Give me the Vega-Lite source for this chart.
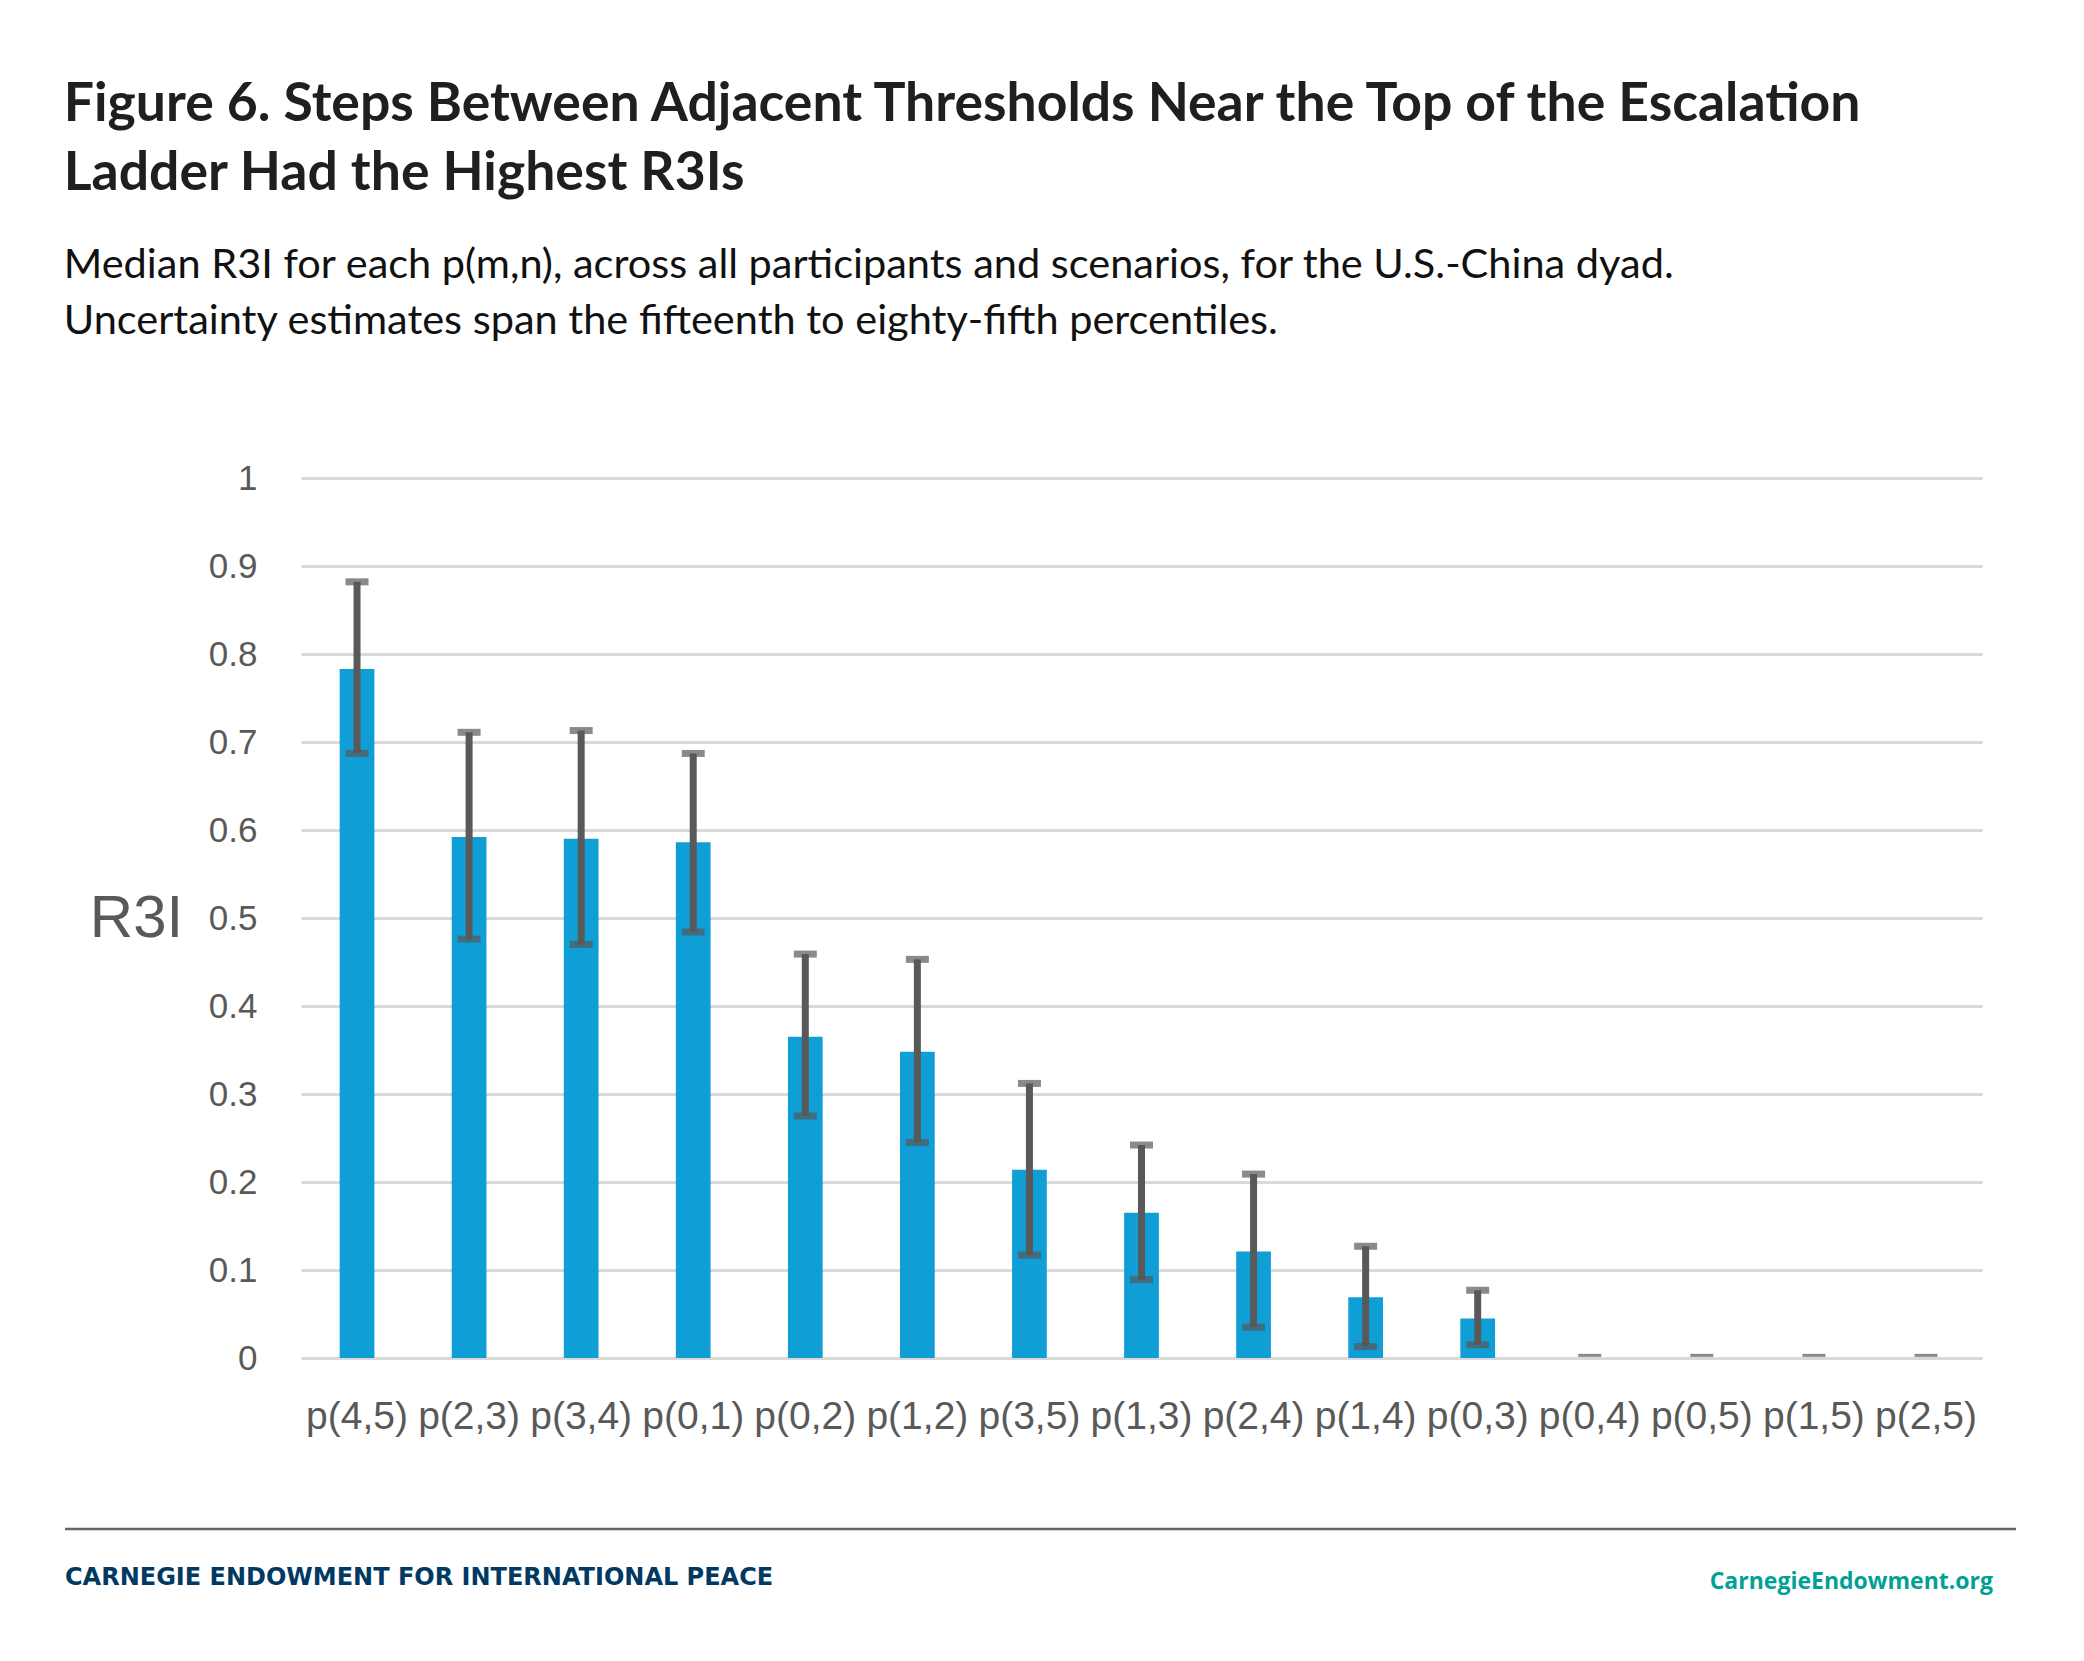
{
  "$schema": "https://vega.github.io/schema/vega-lite/v6.json",
  "background": "white",
  "padding": {"left": 63, "top": 78, "right": 10, "bottom": 10},
  "spacing": 91,
  "title": {
    "text": ["Figure 6. Steps Between Adjacent Thresholds Near the Top of the Escalation", "Ladder Had the Highest R3Is"],
    "subtitle": ["Median R3I for each p(m,n), across all participants and scenarios, for the U.S.-China dyad.", "Uncertainty estimates span the fifteenth to eighty-fifth percentiles."],
    "anchor": "start",
    "font": "Lato",
    "fontSize": 53.5,
    "fontWeight": "bold",
    "color": "#1f1f1f",
    "lineHeight": 69,
    "subtitleFont": "Lato",
    "subtitleFontSize": 41.5,
    "subtitleColor": "#111111",
    "subtitleLineHeight": 56,
    "subtitlePadding": 43,
    "offset": 118
  },
  "config": {"view": {"stroke": null}},
  "vconcat": [
    {
      "width": 1681,
      "height": 880,
      "data": {
        "values": [
          {"step": "p(4,5)", "median": 0.783, "lo": 0.687, "hi": 0.882},
          {"step": "p(2,3)", "median": 0.592, "lo": 0.476, "hi": 0.711},
          {"step": "p(3,4)", "median": 0.590, "lo": 0.470, "hi": 0.713},
          {"step": "p(0,1)", "median": 0.586, "lo": 0.484, "hi": 0.687},
          {"step": "p(0,2)", "median": 0.365, "lo": 0.275, "hi": 0.459},
          {"step": "p(1,2)", "median": 0.348, "lo": 0.245, "hi": 0.453},
          {"step": "p(3,5)", "median": 0.214, "lo": 0.117, "hi": 0.312},
          {"step": "p(1,3)", "median": 0.165, "lo": 0.089, "hi": 0.242},
          {"step": "p(2,4)", "median": 0.121, "lo": 0.035, "hi": 0.209},
          {"step": "p(1,4)", "median": 0.069, "lo": 0.013, "hi": 0.127},
          {"step": "p(0,3)", "median": 0.045, "lo": 0.015, "hi": 0.077},
          {"step": "p(0,4)", "median": 0, "lo": 0.003, "hi": 0.003},
          {"step": "p(0,5)", "median": 0, "lo": 0.003, "hi": 0.003},
          {"step": "p(1,5)", "median": 0, "lo": 0.003, "hi": 0.003},
          {"step": "p(2,5)", "median": 0, "lo": 0.003, "hi": 0.003}
        ]
      },
      "encoding": {
        "x": {
          "field": "step",
          "type": "nominal",
          "sort": null,
          "scale": {"paddingInner": 0.69, "paddingOuter": 0.345},
          "axis": {
            "title": null,
            "labelAngle": 0,
            "labelFont": "Liberation Sans",
            "labelFontSize": 39,
            "labelColor": "#595959",
            "labelPadding": 39,
            "labelOverlap": false,
            "domain": false,
            "ticks": false,
            "grid": false
          }
        }
      },
      "layer": [
        {
          "mark": {"type": "bar", "color": "#0f9fd6"},
          "encoding": {
            "y": {
              "field": "median",
              "type": "quantitative",
              "scale": {"domain": [0, 1]},
              "axis": {
                "title": "R3I",
                "titleAngle": 0,
                "titleFont": "Liberation Sans",
                "titleFontSize": 60,
                "titleFontWeight": "normal",
                "titleColor": "#595959",
                "titleAlign": "center",
                "titleBaseline": "middle",
                "titleX": -165,
                "titleY": 440,
                "values": [0, 0.1, 0.2, 0.3, 0.4, 0.5, 0.6, 0.7, 0.8, 0.9, 1],
                "format": "~g",
                "labelFont": "Liberation Sans",
                "labelFontSize": 35,
                "labelColor": "#595959",
                "labelPadding": 44,
                "domain": false,
                "ticks": false,
                "grid": true,
                "gridColor": "#d9d9d9",
                "gridWidth": 3,
                "minExtent": 236
              }
            }
          }
        },
        {
          "transform": [{"filter": "datum.median > 0"}],
          "layer": [
            {
              "mark": {"type": "rule", "color": "#595959", "strokeWidth": 7},
              "encoding": {
                "y": {"field": "lo", "type": "quantitative"},
                "y2": {"field": "hi"}
              }
            },
            {
              "mark": {"type": "tick", "color": "#595959", "thickness": 7, "size": 23},
              "encoding": {"y": {"field": "lo", "type": "quantitative"}}
            },
            {
              "mark": {"type": "tick", "color": "#595959", "thickness": 7, "size": 23},
              "encoding": {"y": {"field": "hi", "type": "quantitative"}}
            }
          ]
        },
        {
          "transform": [{"filter": "datum.median <= 0"}],
          "mark": {"type": "tick", "color": "#595959", "thickness": 3, "size": 23},
          "encoding": {"y": {"field": "hi", "type": "quantitative"}}
        }
      ]
    },
    {
      "width": 1681,
      "height": 80,
      "data": {"values": [{"org": "CARNEGIE ENDOWMENT FOR INTERNATIONAL PEACE", "site": "CarnegieEndowment.org"}]},
      "encoding": {
        "y": {"datum": 1, "type": "quantitative", "scale": {"domain": [0, 1]}, "axis": null}
      },
      "layer": [
        {
          "mark": {"type": "rule", "color": "#666666", "strokeWidth": 2.5},
          "encoding": {
            "x": {"datum": "L", "type": "nominal", "scale": {"type": "point", "domain": ["L", "R"], "range": [-236, 1715], "padding": 0}, "axis": null},
            "x2": {"datum": "R"}
          }
        },
        {
          "mark": {"type": "text", "align": "left", "baseline": "middle", "font": "DejaVu Sans", "fontWeight": "bold", "fontSize": 24, "color": "#003a63"},
          "encoding": {
            "text": {"field": "org"},
            "x": {"datum": "L", "type": "nominal"},
            "y": {"datum": 0.39, "type": "quantitative"}
          }
        },
        {
          "mark": {"type": "text", "align": "right", "baseline": "middle", "font": "Open Sans", "fontWeight": "bold", "fontSize": 23, "color": "#00a195", "dx": -23},
          "encoding": {
            "text": {"field": "site"},
            "x": {"datum": "R", "type": "nominal"},
            "y": {"datum": 0.34, "type": "quantitative"}
          }
        }
      ]
    }
  ]
}
